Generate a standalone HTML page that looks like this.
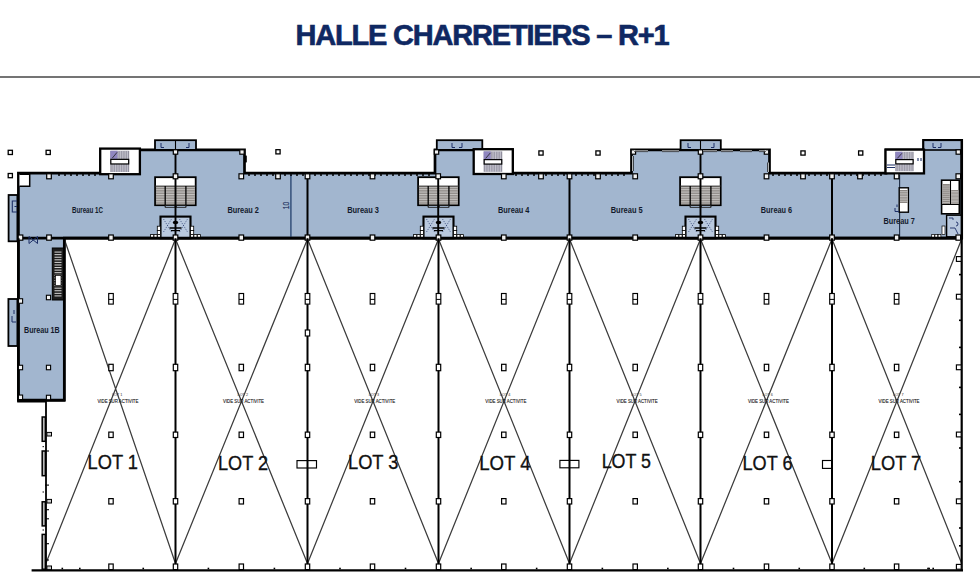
<!DOCTYPE html>
<html><head><meta charset="utf-8"><style>
html,body{margin:0;padding:0;background:#fff;width:980px;height:588px;overflow:hidden;position:relative}
.t{position:absolute;left:0;width:964px;top:19px;text-align:center;font-family:"Liberation Sans",sans-serif;font-weight:bold;font-size:29px;color:#0f2862;letter-spacing:-1.2px;-webkit-text-stroke:0.6px #0f2862;white-space:nowrap}
.rule{position:absolute;left:0;top:76px;width:980px;height:2px;background:#747474}
</style></head><body>
<div class="t">HALLE CHARRETIERS – R+1</div>
<div class="rule"></div>
<svg width="980" height="588" viewBox="0 0 980 588" style="position:absolute;left:0;top:0">
<polygon points="18.4,173.2 101,173.2 101,149.9 244.5,149.9 244.5,173.2 435,173.2 435,149.9 512.5,149.9 512.5,173.2 631.5,173.2 631.5,149.9 769.5,149.9 769.5,173.2 886,173.2 886,149.9 923.5,149.9 923.5,140.3 961.7,140.3 961.7,238.2 64.3,238.2 64.3,400 18.4,400" fill="#a2b6cf" stroke="#000" stroke-width="2.7" stroke-linejoin="miter"/>
<rect x="155.00" y="140.20" width="41.00" height="9.70" fill="#a2b6cf" stroke="#000" stroke-width="1.8" />
<rect x="436.80" y="140.20" width="45.50" height="9.70" fill="#a2b6cf" stroke="#000" stroke-width="1.8" />
<rect x="680.60" y="140.20" width="40.20" height="9.70" fill="#a2b6cf" stroke="#000" stroke-width="1.8" />
<rect x="923.50" y="140.30" width="38.20" height="9.70" fill="#a2b6cf" stroke="#000" stroke-width="1.6" />
<line x1="175.50" y1="140.20" x2="175.50" y2="149.90" stroke="#000" stroke-width="1.1" />
<line x1="700.50" y1="140.20" x2="700.50" y2="149.90" stroke="#000" stroke-width="1.1" />
<path d="M161,143V147.5H164" stroke="#1d2f66" stroke-width="1" fill="none"/>
<path d="M189,143V147.5H186" stroke="#1d2f66" stroke-width="1" fill="none"/>
<path d="M452,143V147.5H455" stroke="#1d2f66" stroke-width="1" fill="none"/>
<path d="M462,143V147.5H459" stroke="#1d2f66" stroke-width="1" fill="none"/>
<path d="M688,143V147.5H691" stroke="#1d2f66" stroke-width="1" fill="none"/>
<path d="M714,143V147.5H711" stroke="#1d2f66" stroke-width="1" fill="none"/>
<path d="M933,143V147.5H936" stroke="#1d2f66" stroke-width="1" fill="none"/>
<path d="M941,143V147.5H938" stroke="#1d2f66" stroke-width="1" fill="none"/>
<rect x="8.60" y="195.00" width="8.80" height="46.30" fill="#a2b6cf" stroke="#000" stroke-width="1.8" />
<path d="M17,201H12.3V212H17M14.5,206.5H17" stroke="#1d2f66" stroke-width="1.1" fill="none"/>
<rect x="8.40" y="299.00" width="9.00" height="47.00" fill="#a2b6cf" stroke="#000" stroke-width="1.8" />
<path d="M12,316V322H16M14,310V314" stroke="#1d2f66" stroke-width="1" fill="none"/>
<rect x="100.20" y="148.60" width="39.70" height="25.60" fill="#fff" stroke="#000" stroke-width="2.3" />
<rect x="110.32" y="150.80" width="18.86" height="21.20" fill="#8f8d9c" stroke="#000" stroke-width="0" />
<line x1="112.04" y1="150.80" x2="112.04" y2="172.00" stroke="#e6e6ee" stroke-width="0.6" />
<line x1="113.75" y1="150.80" x2="113.75" y2="172.00" stroke="#e6e6ee" stroke-width="0.6" />
<line x1="115.47" y1="150.80" x2="115.47" y2="172.00" stroke="#e6e6ee" stroke-width="0.6" />
<line x1="117.18" y1="150.80" x2="117.18" y2="172.00" stroke="#e6e6ee" stroke-width="0.6" />
<line x1="118.90" y1="150.80" x2="118.90" y2="172.00" stroke="#e6e6ee" stroke-width="0.6" />
<line x1="120.61" y1="150.80" x2="120.61" y2="172.00" stroke="#e6e6ee" stroke-width="0.6" />
<line x1="122.32" y1="150.80" x2="122.32" y2="172.00" stroke="#e6e6ee" stroke-width="0.6" />
<line x1="124.04" y1="150.80" x2="124.04" y2="172.00" stroke="#e6e6ee" stroke-width="0.6" />
<line x1="125.75" y1="150.80" x2="125.75" y2="172.00" stroke="#e6e6ee" stroke-width="0.6" />
<line x1="127.47" y1="150.80" x2="127.47" y2="172.00" stroke="#e6e6ee" stroke-width="0.6" />
<rect x="110.32" y="150.80" width="7.17" height="8.04" fill="#8f86c0" stroke="#000" stroke-width="0" />
<path d="M112.32350000000001,158.072L117.11220000000002,152.29999999999998" stroke="#222" stroke-width="0.8"/>
<rect x="110.82" y="159.35" width="17.86" height="4.61" fill="#fff" stroke="#000" stroke-width="1.2" />
<rect x="473.70" y="149.20" width="39.10" height="24.80" fill="#fff" stroke="#000" stroke-width="2.3" />
<rect x="483.67" y="151.40" width="18.57" height="20.40" fill="#8f8d9c" stroke="#000" stroke-width="0" />
<line x1="485.36" y1="151.40" x2="485.36" y2="171.80" stroke="#e6e6ee" stroke-width="0.6" />
<line x1="487.05" y1="151.40" x2="487.05" y2="171.80" stroke="#e6e6ee" stroke-width="0.6" />
<line x1="488.74" y1="151.40" x2="488.74" y2="171.80" stroke="#e6e6ee" stroke-width="0.6" />
<line x1="490.42" y1="151.40" x2="490.42" y2="171.80" stroke="#e6e6ee" stroke-width="0.6" />
<line x1="492.11" y1="151.40" x2="492.11" y2="171.80" stroke="#e6e6ee" stroke-width="0.6" />
<line x1="493.80" y1="151.40" x2="493.80" y2="171.80" stroke="#e6e6ee" stroke-width="0.6" />
<line x1="495.49" y1="151.40" x2="495.49" y2="171.80" stroke="#e6e6ee" stroke-width="0.6" />
<line x1="497.18" y1="151.40" x2="497.18" y2="171.80" stroke="#e6e6ee" stroke-width="0.6" />
<line x1="498.87" y1="151.40" x2="498.87" y2="171.80" stroke="#e6e6ee" stroke-width="0.6" />
<line x1="500.55" y1="151.40" x2="500.55" y2="171.80" stroke="#e6e6ee" stroke-width="0.6" />
<rect x="483.67" y="151.40" width="7.06" height="7.72" fill="#8f86c0" stroke="#000" stroke-width="0" />
<path d="M485.6705,158.376L490.35659999999996,152.89999999999998" stroke="#222" stroke-width="0.8"/>
<rect x="484.17" y="159.62" width="17.57" height="4.46" fill="#fff" stroke="#000" stroke-width="1.2" />
<rect x="885.50" y="149.60" width="38.50" height="23.80" fill="#fff" stroke="#000" stroke-width="2.3" />
<rect x="895.32" y="151.80" width="18.29" height="19.40" fill="#8f8d9c" stroke="#000" stroke-width="0" />
<line x1="896.98" y1="151.80" x2="896.98" y2="171.20" stroke="#e6e6ee" stroke-width="0.6" />
<line x1="898.64" y1="151.80" x2="898.64" y2="171.20" stroke="#e6e6ee" stroke-width="0.6" />
<line x1="900.30" y1="151.80" x2="900.30" y2="171.20" stroke="#e6e6ee" stroke-width="0.6" />
<line x1="901.97" y1="151.80" x2="901.97" y2="171.20" stroke="#e6e6ee" stroke-width="0.6" />
<line x1="903.63" y1="151.80" x2="903.63" y2="171.20" stroke="#e6e6ee" stroke-width="0.6" />
<line x1="905.29" y1="151.80" x2="905.29" y2="171.20" stroke="#e6e6ee" stroke-width="0.6" />
<line x1="906.96" y1="151.80" x2="906.96" y2="171.20" stroke="#e6e6ee" stroke-width="0.6" />
<line x1="908.62" y1="151.80" x2="908.62" y2="171.20" stroke="#e6e6ee" stroke-width="0.6" />
<line x1="910.28" y1="151.80" x2="910.28" y2="171.20" stroke="#e6e6ee" stroke-width="0.6" />
<line x1="911.94" y1="151.80" x2="911.94" y2="171.20" stroke="#e6e6ee" stroke-width="0.6" />
<rect x="895.32" y="151.80" width="6.95" height="7.32" fill="#8f86c0" stroke="#000" stroke-width="0" />
<path d="M897.3175,158.406L901.901,153.29999999999998" stroke="#222" stroke-width="0.8"/>
<rect x="895.82" y="159.60" width="17.29" height="4.28" fill="#fff" stroke="#000" stroke-width="1.2" />
<path d="M887,165H895M887,167.5H895M918,158V161M921,158V161" stroke="#1d2f66" stroke-width="1.1" fill="none"/>
<rect x="155.10" y="177.20" width="40.60" height="28.00" fill="#fff" stroke="#000" stroke-width="1.8" />
<rect x="155.90" y="186.00" width="39.00" height="18.40" fill="#7f7a76" stroke="#000" stroke-width="0" />
<line x1="156.10" y1="187.70" x2="194.70" y2="187.70" stroke="#f4f4f4" stroke-width="0.6" />
<line x1="156.10" y1="189.40" x2="194.70" y2="189.40" stroke="#f4f4f4" stroke-width="0.6" />
<line x1="156.10" y1="191.10" x2="194.70" y2="191.10" stroke="#f4f4f4" stroke-width="0.6" />
<line x1="156.10" y1="192.80" x2="194.70" y2="192.80" stroke="#f4f4f4" stroke-width="0.6" />
<line x1="156.10" y1="194.50" x2="194.70" y2="194.50" stroke="#f4f4f4" stroke-width="0.6" />
<line x1="156.10" y1="196.20" x2="194.70" y2="196.20" stroke="#f4f4f4" stroke-width="0.6" />
<line x1="156.10" y1="197.90" x2="194.70" y2="197.90" stroke="#f4f4f4" stroke-width="0.6" />
<line x1="156.10" y1="199.60" x2="194.70" y2="199.60" stroke="#f4f4f4" stroke-width="0.6" />
<line x1="156.10" y1="201.30" x2="194.70" y2="201.30" stroke="#f4f4f4" stroke-width="0.6" />
<line x1="156.10" y1="203.00" x2="194.70" y2="203.00" stroke="#f4f4f4" stroke-width="0.6" />
<line x1="155.10" y1="186.00" x2="195.70" y2="186.00" stroke="#333" stroke-width="0.8" />
<line x1="165.20" y1="186.00" x2="165.20" y2="206.40" stroke="#000" stroke-width="1.3" />
<line x1="185.90" y1="186.00" x2="185.90" y2="206.40" stroke="#000" stroke-width="1.3" />
<rect x="165.20" y="205.50" width="9.80" height="1.90" fill="none" stroke="#222" stroke-width="0.8" />
<rect x="176.50" y="205.50" width="9.40" height="1.90" fill="none" stroke="#222" stroke-width="0.8" />
<rect x="418.10" y="177.20" width="40.60" height="28.00" fill="#fff" stroke="#000" stroke-width="1.8" />
<rect x="418.90" y="186.00" width="39.00" height="18.40" fill="#7f7a76" stroke="#000" stroke-width="0" />
<line x1="419.10" y1="187.70" x2="457.70" y2="187.70" stroke="#f4f4f4" stroke-width="0.6" />
<line x1="419.10" y1="189.40" x2="457.70" y2="189.40" stroke="#f4f4f4" stroke-width="0.6" />
<line x1="419.10" y1="191.10" x2="457.70" y2="191.10" stroke="#f4f4f4" stroke-width="0.6" />
<line x1="419.10" y1="192.80" x2="457.70" y2="192.80" stroke="#f4f4f4" stroke-width="0.6" />
<line x1="419.10" y1="194.50" x2="457.70" y2="194.50" stroke="#f4f4f4" stroke-width="0.6" />
<line x1="419.10" y1="196.20" x2="457.70" y2="196.20" stroke="#f4f4f4" stroke-width="0.6" />
<line x1="419.10" y1="197.90" x2="457.70" y2="197.90" stroke="#f4f4f4" stroke-width="0.6" />
<line x1="419.10" y1="199.60" x2="457.70" y2="199.60" stroke="#f4f4f4" stroke-width="0.6" />
<line x1="419.10" y1="201.30" x2="457.70" y2="201.30" stroke="#f4f4f4" stroke-width="0.6" />
<line x1="419.10" y1="203.00" x2="457.70" y2="203.00" stroke="#f4f4f4" stroke-width="0.6" />
<line x1="418.10" y1="186.00" x2="458.70" y2="186.00" stroke="#333" stroke-width="0.8" />
<line x1="428.20" y1="186.00" x2="428.20" y2="206.40" stroke="#000" stroke-width="1.3" />
<line x1="448.90" y1="186.00" x2="448.90" y2="206.40" stroke="#000" stroke-width="1.3" />
<rect x="428.20" y="205.50" width="9.80" height="1.90" fill="none" stroke="#222" stroke-width="0.8" />
<rect x="439.50" y="205.50" width="9.40" height="1.90" fill="none" stroke="#222" stroke-width="0.8" />
<rect x="680.10" y="177.20" width="40.60" height="28.00" fill="#fff" stroke="#000" stroke-width="1.8" />
<rect x="680.90" y="186.00" width="39.00" height="18.40" fill="#7f7a76" stroke="#000" stroke-width="0" />
<line x1="681.10" y1="187.70" x2="719.70" y2="187.70" stroke="#f4f4f4" stroke-width="0.6" />
<line x1="681.10" y1="189.40" x2="719.70" y2="189.40" stroke="#f4f4f4" stroke-width="0.6" />
<line x1="681.10" y1="191.10" x2="719.70" y2="191.10" stroke="#f4f4f4" stroke-width="0.6" />
<line x1="681.10" y1="192.80" x2="719.70" y2="192.80" stroke="#f4f4f4" stroke-width="0.6" />
<line x1="681.10" y1="194.50" x2="719.70" y2="194.50" stroke="#f4f4f4" stroke-width="0.6" />
<line x1="681.10" y1="196.20" x2="719.70" y2="196.20" stroke="#f4f4f4" stroke-width="0.6" />
<line x1="681.10" y1="197.90" x2="719.70" y2="197.90" stroke="#f4f4f4" stroke-width="0.6" />
<line x1="681.10" y1="199.60" x2="719.70" y2="199.60" stroke="#f4f4f4" stroke-width="0.6" />
<line x1="681.10" y1="201.30" x2="719.70" y2="201.30" stroke="#f4f4f4" stroke-width="0.6" />
<line x1="681.10" y1="203.00" x2="719.70" y2="203.00" stroke="#f4f4f4" stroke-width="0.6" />
<line x1="680.10" y1="186.00" x2="720.70" y2="186.00" stroke="#333" stroke-width="0.8" />
<line x1="690.20" y1="186.00" x2="690.20" y2="206.40" stroke="#000" stroke-width="1.3" />
<line x1="710.90" y1="186.00" x2="710.90" y2="206.40" stroke="#000" stroke-width="1.3" />
<rect x="690.20" y="205.50" width="9.80" height="1.90" fill="none" stroke="#222" stroke-width="0.8" />
<rect x="701.50" y="205.50" width="9.40" height="1.90" fill="none" stroke="#222" stroke-width="0.8" />
<rect x="160.50" y="216.60" width="30.00" height="21.60" fill="#b9c9de" stroke="#000" stroke-width="2.1" />
<path d="M163.5,219L171.5,232M163.5,232L171.5,219M179.5,219L187.5,232M179.5,232L187.5,219" stroke="#1d2f66" stroke-width="0.8" stroke-dasharray="1.2 1.2" fill="none" opacity="0.8"/>
<ellipse cx="175.5" cy="222.5" rx="2.8" ry="1.7" fill="#000"/>
<line x1="169.50" y1="228.00" x2="181.50" y2="228.00" stroke="#000" stroke-width="1.5" />
<line x1="171.00" y1="230.60" x2="180.00" y2="230.60" stroke="#000" stroke-width="1.2" />
<rect x="157.30" y="234.60" width="3.20" height="3.00" fill="#fff" stroke="#000" stroke-width="0.8" />
<rect x="153.90" y="234.60" width="3.20" height="3.00" fill="#fff" stroke="#000" stroke-width="0.8" />
<rect x="150.50" y="234.60" width="3.20" height="3.00" fill="#fff" stroke="#000" stroke-width="0.8" />
<rect x="157.30" y="226.20" width="3.20" height="4.20" fill="#fff" stroke="#000" stroke-width="0.8" />
<rect x="157.30" y="230.40" width="3.20" height="4.20" fill="#fff" stroke="#000" stroke-width="0.8" />
<rect x="190.50" y="234.60" width="3.20" height="3.00" fill="#fff" stroke="#000" stroke-width="0.8" />
<rect x="193.90" y="234.60" width="3.20" height="3.00" fill="#fff" stroke="#000" stroke-width="0.8" />
<rect x="197.30" y="234.60" width="3.20" height="3.00" fill="#fff" stroke="#000" stroke-width="0.8" />
<rect x="190.50" y="226.20" width="3.20" height="4.20" fill="#fff" stroke="#000" stroke-width="0.8" />
<rect x="190.50" y="230.40" width="3.20" height="4.20" fill="#fff" stroke="#000" stroke-width="0.8" />
<rect x="423.50" y="216.60" width="30.00" height="21.60" fill="#b9c9de" stroke="#000" stroke-width="2.1" />
<path d="M426.5,219L434.5,232M426.5,232L434.5,219M442.5,219L450.5,232M442.5,232L450.5,219" stroke="#1d2f66" stroke-width="0.8" stroke-dasharray="1.2 1.2" fill="none" opacity="0.8"/>
<ellipse cx="438.5" cy="222.5" rx="2.8" ry="1.7" fill="#000"/>
<line x1="432.50" y1="228.00" x2="444.50" y2="228.00" stroke="#000" stroke-width="1.5" />
<line x1="434.00" y1="230.60" x2="443.00" y2="230.60" stroke="#000" stroke-width="1.2" />
<rect x="420.30" y="234.60" width="3.20" height="3.00" fill="#fff" stroke="#000" stroke-width="0.8" />
<rect x="416.90" y="234.60" width="3.20" height="3.00" fill="#fff" stroke="#000" stroke-width="0.8" />
<rect x="413.50" y="234.60" width="3.20" height="3.00" fill="#fff" stroke="#000" stroke-width="0.8" />
<rect x="420.30" y="226.20" width="3.20" height="4.20" fill="#fff" stroke="#000" stroke-width="0.8" />
<rect x="420.30" y="230.40" width="3.20" height="4.20" fill="#fff" stroke="#000" stroke-width="0.8" />
<rect x="453.50" y="234.60" width="3.20" height="3.00" fill="#fff" stroke="#000" stroke-width="0.8" />
<rect x="456.90" y="234.60" width="3.20" height="3.00" fill="#fff" stroke="#000" stroke-width="0.8" />
<rect x="460.30" y="234.60" width="3.20" height="3.00" fill="#fff" stroke="#000" stroke-width="0.8" />
<rect x="453.50" y="226.20" width="3.20" height="4.20" fill="#fff" stroke="#000" stroke-width="0.8" />
<rect x="453.50" y="230.40" width="3.20" height="4.20" fill="#fff" stroke="#000" stroke-width="0.8" />
<rect x="685.50" y="216.60" width="30.00" height="21.60" fill="#b9c9de" stroke="#000" stroke-width="2.1" />
<path d="M688.5,219L696.5,232M688.5,232L696.5,219M704.5,219L712.5,232M704.5,232L712.5,219" stroke="#1d2f66" stroke-width="0.8" stroke-dasharray="1.2 1.2" fill="none" opacity="0.8"/>
<ellipse cx="700.5" cy="222.5" rx="2.8" ry="1.7" fill="#000"/>
<line x1="694.50" y1="228.00" x2="706.50" y2="228.00" stroke="#000" stroke-width="1.5" />
<line x1="696.00" y1="230.60" x2="705.00" y2="230.60" stroke="#000" stroke-width="1.2" />
<rect x="682.30" y="234.60" width="3.20" height="3.00" fill="#fff" stroke="#000" stroke-width="0.8" />
<rect x="678.90" y="234.60" width="3.20" height="3.00" fill="#fff" stroke="#000" stroke-width="0.8" />
<rect x="675.50" y="234.60" width="3.20" height="3.00" fill="#fff" stroke="#000" stroke-width="0.8" />
<rect x="682.30" y="226.20" width="3.20" height="4.20" fill="#fff" stroke="#000" stroke-width="0.8" />
<rect x="682.30" y="230.40" width="3.20" height="4.20" fill="#fff" stroke="#000" stroke-width="0.8" />
<rect x="715.50" y="234.60" width="3.20" height="3.00" fill="#fff" stroke="#000" stroke-width="0.8" />
<rect x="718.90" y="234.60" width="3.20" height="3.00" fill="#fff" stroke="#000" stroke-width="0.8" />
<rect x="722.30" y="234.60" width="3.20" height="3.00" fill="#fff" stroke="#000" stroke-width="0.8" />
<rect x="715.50" y="226.20" width="3.20" height="4.20" fill="#fff" stroke="#000" stroke-width="0.8" />
<rect x="715.50" y="230.40" width="3.20" height="4.20" fill="#fff" stroke="#000" stroke-width="0.8" />
<line x1="899.60" y1="175.00" x2="899.60" y2="238.20" stroke="#1b2a44" stroke-width="1.1" />
<rect x="899.20" y="187.80" width="9.20" height="24.40" fill="#fff" stroke="#000" stroke-width="1.4" />
<rect x="900.00" y="190.00" width="7.60" height="13.00" fill="#8b8682" stroke="#000" stroke-width="0" />
<line x1="900.00" y1="191.62" x2="907.60" y2="191.62" stroke="#eee" stroke-width="0.5" />
<line x1="900.00" y1="193.25" x2="907.60" y2="193.25" stroke="#eee" stroke-width="0.5" />
<line x1="900.00" y1="194.88" x2="907.60" y2="194.88" stroke="#eee" stroke-width="0.5" />
<line x1="900.00" y1="196.50" x2="907.60" y2="196.50" stroke="#eee" stroke-width="0.5" />
<line x1="900.00" y1="198.12" x2="907.60" y2="198.12" stroke="#eee" stroke-width="0.5" />
<line x1="900.00" y1="199.75" x2="907.60" y2="199.75" stroke="#eee" stroke-width="0.5" />
<line x1="900.00" y1="201.38" x2="907.60" y2="201.38" stroke="#eee" stroke-width="0.5" />
<path d="M895,208V211.5H899M897,204.5V207" stroke="#1d2f66" stroke-width="1" fill="none"/>
<rect x="941.60" y="180.20" width="17.70" height="33.60" fill="#fff" stroke="#000" stroke-width="1.6" />
<rect x="942.60" y="184.00" width="7.20" height="20.50" fill="#8b8682" stroke="#000" stroke-width="0" />
<rect x="951.20" y="190.00" width="7.20" height="14.50" fill="#8b8682" stroke="#000" stroke-width="0" />
<line x1="942.60" y1="186.05" x2="949.80" y2="186.05" stroke="#eee" stroke-width="0.5" />
<line x1="951.20" y1="191.45" x2="958.40" y2="191.45" stroke="#eee" stroke-width="0.5" />
<line x1="942.60" y1="188.10" x2="949.80" y2="188.10" stroke="#eee" stroke-width="0.5" />
<line x1="951.20" y1="192.90" x2="958.40" y2="192.90" stroke="#eee" stroke-width="0.5" />
<line x1="942.60" y1="190.15" x2="949.80" y2="190.15" stroke="#eee" stroke-width="0.5" />
<line x1="951.20" y1="194.35" x2="958.40" y2="194.35" stroke="#eee" stroke-width="0.5" />
<line x1="942.60" y1="192.20" x2="949.80" y2="192.20" stroke="#eee" stroke-width="0.5" />
<line x1="951.20" y1="195.80" x2="958.40" y2="195.80" stroke="#eee" stroke-width="0.5" />
<line x1="942.60" y1="194.25" x2="949.80" y2="194.25" stroke="#eee" stroke-width="0.5" />
<line x1="951.20" y1="197.25" x2="958.40" y2="197.25" stroke="#eee" stroke-width="0.5" />
<line x1="942.60" y1="196.30" x2="949.80" y2="196.30" stroke="#eee" stroke-width="0.5" />
<line x1="951.20" y1="198.70" x2="958.40" y2="198.70" stroke="#eee" stroke-width="0.5" />
<line x1="942.60" y1="198.35" x2="949.80" y2="198.35" stroke="#eee" stroke-width="0.5" />
<line x1="951.20" y1="200.15" x2="958.40" y2="200.15" stroke="#eee" stroke-width="0.5" />
<line x1="942.60" y1="200.40" x2="949.80" y2="200.40" stroke="#eee" stroke-width="0.5" />
<line x1="951.20" y1="201.60" x2="958.40" y2="201.60" stroke="#eee" stroke-width="0.5" />
<line x1="942.60" y1="202.45" x2="949.80" y2="202.45" stroke="#eee" stroke-width="0.5" />
<line x1="951.20" y1="203.05" x2="958.40" y2="203.05" stroke="#eee" stroke-width="0.5" />
<line x1="950.50" y1="180.20" x2="950.50" y2="204.50" stroke="#000" stroke-width="1.1" />
<line x1="941.60" y1="204.50" x2="959.30" y2="204.50" stroke="#000" stroke-width="1" />
<rect x="946.60" y="215.20" width="15.10" height="21.60" fill="#b9c9de" stroke="#000" stroke-width="1.4" />
<path d="M949,218H953V220M956,222A2,2 0 1,1 956,226M950,228H955L958,234" stroke="#1d2f66" stroke-width="0.9" fill="none"/>
<rect x="938.10" y="234.50" width="2.80" height="3.10" fill="#fff" stroke="#000" stroke-width="0.7" />
<rect x="934.90" y="234.50" width="2.80" height="3.10" fill="#fff" stroke="#000" stroke-width="0.7" />
<rect x="931.70" y="234.50" width="2.80" height="3.10" fill="#fff" stroke="#000" stroke-width="0.7" />
<rect x="942.00" y="226.00" width="3.00" height="8.50" fill="#fff" stroke="#000" stroke-width="0.7" />
<line x1="290.90" y1="174.00" x2="290.90" y2="238.20" stroke="#34507a" stroke-width="1.5" />
<line x1="175.50" y1="149.90" x2="175.50" y2="238.20" stroke="#000" stroke-width="1.9" />
<line x1="700.50" y1="149.90" x2="700.50" y2="238.20" stroke="#000" stroke-width="1.9" />
<line x1="438.20" y1="176.00" x2="438.20" y2="238.20" stroke="#000" stroke-width="1.9" />
<line x1="307.50" y1="173.20" x2="307.50" y2="238.20" stroke="#000" stroke-width="2" />
<line x1="569.50" y1="173.20" x2="569.50" y2="238.20" stroke="#000" stroke-width="2" />
<line x1="832.00" y1="173.20" x2="832.00" y2="238.20" stroke="#000" stroke-width="2" />
<line x1="17.20" y1="238.20" x2="962.70" y2="238.20" stroke="#000" stroke-width="2.7" />
<line x1="58" y1="175" x2="96" y2="175" stroke="#000" stroke-width="1.7" stroke-dasharray="2 4"/>
<line x1="248" y1="175" x2="432" y2="175" stroke="#000" stroke-width="1.7" stroke-dasharray="2 4"/>
<line x1="515" y1="175" x2="629" y2="175" stroke="#000" stroke-width="1.7" stroke-dasharray="2 4"/>
<line x1="772" y1="175" x2="884" y2="175" stroke="#000" stroke-width="1.7" stroke-dasharray="2 4"/>
<rect x="46.70" y="173.80" width="4.60" height="5.00" fill="#f2f2f2" stroke="#000" stroke-width="1.2" />
<rect x="108.70" y="173.80" width="4.60" height="5.00" fill="#f2f2f2" stroke="#000" stroke-width="1.2" />
<rect x="173.20" y="173.80" width="4.60" height="5.00" fill="#f2f2f2" stroke="#000" stroke-width="1.2" />
<rect x="239.00" y="173.80" width="4.60" height="5.00" fill="#f2f2f2" stroke="#000" stroke-width="1.2" />
<rect x="275.70" y="173.80" width="4.60" height="5.00" fill="#f2f2f2" stroke="#000" stroke-width="1.2" />
<rect x="305.20" y="173.80" width="4.60" height="5.00" fill="#f2f2f2" stroke="#000" stroke-width="1.2" />
<rect x="370.20" y="173.80" width="4.60" height="5.00" fill="#f2f2f2" stroke="#000" stroke-width="1.2" />
<rect x="435.90" y="173.80" width="4.60" height="5.00" fill="#f2f2f2" stroke="#000" stroke-width="1.2" />
<rect x="501.50" y="173.80" width="4.60" height="5.00" fill="#f2f2f2" stroke="#000" stroke-width="1.2" />
<rect x="698.20" y="173.80" width="4.60" height="5.00" fill="#f2f2f2" stroke="#000" stroke-width="1.2" />
<rect x="538.70" y="173.80" width="4.60" height="5.00" fill="#f2f2f2" stroke="#000" stroke-width="1.2" />
<rect x="567.20" y="173.80" width="4.60" height="5.00" fill="#f2f2f2" stroke="#000" stroke-width="1.2" />
<rect x="595.70" y="173.80" width="4.60" height="5.00" fill="#f2f2f2" stroke="#000" stroke-width="1.2" />
<rect x="632.90" y="173.80" width="4.60" height="5.00" fill="#f2f2f2" stroke="#000" stroke-width="1.2" />
<rect x="764.20" y="173.80" width="4.60" height="5.00" fill="#f2f2f2" stroke="#000" stroke-width="1.2" />
<rect x="800.70" y="173.80" width="4.60" height="5.00" fill="#f2f2f2" stroke="#000" stroke-width="1.2" />
<rect x="829.70" y="173.80" width="4.60" height="5.00" fill="#f2f2f2" stroke="#000" stroke-width="1.2" />
<rect x="857.70" y="173.80" width="4.60" height="5.00" fill="#f2f2f2" stroke="#000" stroke-width="1.2" />
<rect x="894.30" y="173.80" width="4.60" height="5.00" fill="#f2f2f2" stroke="#000" stroke-width="1.2" />
<rect x="956.00" y="173.80" width="4.60" height="5.00" fill="#f2f2f2" stroke="#000" stroke-width="1.2" />
<rect x="18.20" y="235.00" width="4.60" height="5.20" fill="#f2f2f2" stroke="#000" stroke-width="1.2" />
<rect x="46.70" y="235.00" width="4.60" height="5.20" fill="#f2f2f2" stroke="#000" stroke-width="1.2" />
<rect x="108.70" y="235.00" width="4.60" height="5.20" fill="#f2f2f2" stroke="#000" stroke-width="1.2" />
<rect x="173.20" y="235.00" width="4.60" height="5.20" fill="#f2f2f2" stroke="#000" stroke-width="1.2" />
<rect x="239.00" y="235.00" width="4.60" height="5.20" fill="#f2f2f2" stroke="#000" stroke-width="1.2" />
<rect x="305.20" y="235.00" width="4.60" height="5.20" fill="#f2f2f2" stroke="#000" stroke-width="1.2" />
<rect x="370.20" y="235.00" width="4.60" height="5.20" fill="#f2f2f2" stroke="#000" stroke-width="1.2" />
<rect x="436.20" y="235.00" width="4.60" height="5.20" fill="#f2f2f2" stroke="#000" stroke-width="1.2" />
<rect x="501.50" y="235.00" width="4.60" height="5.20" fill="#f2f2f2" stroke="#000" stroke-width="1.2" />
<rect x="567.20" y="235.00" width="4.60" height="5.20" fill="#f2f2f2" stroke="#000" stroke-width="1.2" />
<rect x="632.90" y="235.00" width="4.60" height="5.20" fill="#f2f2f2" stroke="#000" stroke-width="1.2" />
<rect x="698.20" y="235.00" width="4.60" height="5.20" fill="#f2f2f2" stroke="#000" stroke-width="1.2" />
<rect x="764.20" y="235.00" width="4.60" height="5.20" fill="#f2f2f2" stroke="#000" stroke-width="1.2" />
<rect x="829.70" y="235.00" width="4.60" height="5.20" fill="#f2f2f2" stroke="#000" stroke-width="1.2" />
<rect x="894.30" y="235.00" width="4.60" height="5.20" fill="#f2f2f2" stroke="#000" stroke-width="1.2" />
<rect x="956.00" y="235.00" width="4.60" height="5.20" fill="#f2f2f2" stroke="#000" stroke-width="1.2" />
<rect x="173.30" y="149.80" width="4.40" height="4.40" fill="#f2f2f2" stroke="#000" stroke-width="1.2" />
<rect x="239.80" y="149.80" width="4.40" height="4.40" fill="#f2f2f2" stroke="#000" stroke-width="1.2" />
<rect x="434.30" y="149.80" width="4.40" height="4.40" fill="#f2f2f2" stroke="#000" stroke-width="1.2" />
<rect x="631.20" y="149.80" width="4.40" height="4.40" fill="#f2f2f2" stroke="#000" stroke-width="1.2" />
<rect x="698.30" y="149.80" width="4.40" height="4.40" fill="#f2f2f2" stroke="#000" stroke-width="1.2" />
<rect x="764.30" y="149.80" width="4.40" height="4.40" fill="#f2f2f2" stroke="#000" stroke-width="1.2" />
<rect x="956.10" y="149.80" width="4.40" height="4.40" fill="#f2f2f2" stroke="#000" stroke-width="1.2" />
<rect x="8.20" y="150.30" width="4.20" height="4.20" fill="#fff" stroke="#000" stroke-width="1.3" />
<rect x="46.10" y="150.30" width="4.20" height="4.20" fill="#fff" stroke="#000" stroke-width="1.3" />
<rect x="8.20" y="173.50" width="4.20" height="4.20" fill="#fff" stroke="#000" stroke-width="1.3" />
<rect x="275.90" y="149.70" width="4.20" height="4.20" fill="#fff" stroke="#000" stroke-width="1.3" />
<rect x="538.90" y="150.90" width="4.20" height="4.20" fill="#fff" stroke="#000" stroke-width="1.3" />
<rect x="595.90" y="150.90" width="4.20" height="4.20" fill="#fff" stroke="#000" stroke-width="1.3" />
<rect x="800.90" y="150.90" width="4.20" height="4.20" fill="#fff" stroke="#000" stroke-width="1.3" />
<rect x="858.60" y="150.90" width="4.20" height="4.20" fill="#fff" stroke="#000" stroke-width="1.3" />
<rect x="244.60" y="155.60" width="2.20" height="6.80" fill="#000" stroke="#000" stroke-width="0" />
<line x1="634.00" y1="151.60" x2="648.00" y2="151.60" stroke="#000" stroke-width="0.8" />
<line x1="634.00" y1="150.80" x2="648.00" y2="150.80" stroke="#f4f6f8" stroke-width="0.8" />
<line x1="662.00" y1="151.60" x2="679.00" y2="151.60" stroke="#000" stroke-width="0.8" />
<line x1="662.00" y1="150.80" x2="679.00" y2="150.80" stroke="#f4f6f8" stroke-width="0.8" />
<line x1="703.00" y1="151.60" x2="717.00" y2="151.60" stroke="#000" stroke-width="0.8" />
<line x1="703.00" y1="150.80" x2="717.00" y2="150.80" stroke="#f4f6f8" stroke-width="0.8" />
<line x1="721.00" y1="151.60" x2="733.00" y2="151.60" stroke="#000" stroke-width="0.8" />
<line x1="721.00" y1="150.80" x2="733.00" y2="150.80" stroke="#f4f6f8" stroke-width="0.8" />
<line x1="740.00" y1="151.60" x2="752.00" y2="151.60" stroke="#000" stroke-width="0.8" />
<line x1="740.00" y1="150.80" x2="752.00" y2="150.80" stroke="#f4f6f8" stroke-width="0.8" />
<line x1="759.00" y1="151.60" x2="766.00" y2="151.60" stroke="#000" stroke-width="0.8" />
<line x1="759.00" y1="150.80" x2="766.00" y2="150.80" stroke="#f4f6f8" stroke-width="0.8" />
<line x1="767.60" y1="162.50" x2="767.60" y2="172.00" stroke="#000" stroke-width="0.8" />
<line x1="768.40" y1="162.50" x2="768.40" y2="172.00" stroke="#f4f6f8" stroke-width="0.8" />
<line x1="633.40" y1="156.00" x2="633.40" y2="171.00" stroke="#000" stroke-width="0.8" />
<line x1="632.60" y1="156.00" x2="632.60" y2="171.00" stroke="#f4f6f8" stroke-width="0.8" />
<path d="M19.5,174.3H29.7V186.2H19.5" fill="#fff" stroke="#000" stroke-width="1.5"/>
<path d="M29,236.5V243.5L37.5,236.5V243.5Z" stroke="#1d2f66" stroke-width="1" fill="none"/>
<path d="M64.3,239.0L175.5,563.5M175.5,239.0L45.8,563.5M175.5,239.0L307.5,563.5M307.5,239.0L175.5,563.5M307.5,239.0L438.5,563.5M438.5,239.0L307.5,563.5M438.5,239.0L569.5,563.5M569.5,239.0L438.5,563.5M569.5,239.0L700.5,563.5M700.5,239.0L569.5,563.5M700.5,239.0L832,563.5M832,239.0L700.5,563.5M832,239.0L961.7,563.5M961.7,239.0L832,563.5" stroke="#3c3c3c" stroke-width="1.25" fill="none"/>
<path d="M175.5,238.2V570.3M307.5,238.2V570.3M438.5,238.2V570.3M569.5,238.2V570.3M700.5,238.2V570.3M832,238.2V570.3" stroke="#000" stroke-width="2" fill="none"/>
<path d="M961.7,140.3V570.8" stroke="#000" stroke-width="2.2" fill="none"/>
<path d="M46,400V570.3" stroke="#000" stroke-width="1.8" fill="none"/>
<path d="M31.6,570.3H963" stroke="#000" stroke-width="2.2" fill="none"/>
<path d="M18.4,238.2V400.5H64.3V238.2" stroke="#000" stroke-width="2.4" fill="none"/>
<line x1="17.20" y1="401.20" x2="46.00" y2="401.20" stroke="#000" stroke-width="2.6" />
<rect x="42.20" y="417.00" width="3.20" height="24.30" fill="#bbb" stroke="#000" stroke-width="1.5" />
<rect x="42.20" y="451.00" width="3.20" height="24.70" fill="#bbb" stroke="#000" stroke-width="1.5" />
<rect x="42.20" y="501.80" width="3.20" height="24.10" fill="#bbb" stroke="#000" stroke-width="1.5" />
<rect x="42.20" y="534.40" width="3.20" height="34.80" fill="#bbb" stroke="#000" stroke-width="1.5" />
<line x1="45.00" y1="451.00" x2="49.00" y2="451.00" stroke="#000" stroke-width="1.1" />
<line x1="45.00" y1="485.10" x2="49.00" y2="485.10" stroke="#000" stroke-width="1.1" />
<line x1="45.00" y1="509.70" x2="49.00" y2="509.70" stroke="#000" stroke-width="1.1" />
<line x1="45.00" y1="518.80" x2="49.00" y2="518.80" stroke="#000" stroke-width="1.1" />
<line x1="45.00" y1="543.70" x2="49.00" y2="543.70" stroke="#000" stroke-width="1.1" />
<line x1="45.00" y1="560.00" x2="49.00" y2="560.00" stroke="#000" stroke-width="1.1" />
<rect x="42.60" y="446.00" width="1.20" height="1.20" fill="#000" stroke="#000" stroke-width="0" />
<rect x="42.60" y="491.40" width="1.20" height="1.20" fill="#000" stroke="#000" stroke-width="0" />
<rect x="42.60" y="529.40" width="1.20" height="1.20" fill="#000" stroke="#000" stroke-width="0" />
<rect x="173.20" y="293.50" width="4.60" height="10.60" fill="#fff" stroke="#000" stroke-width="1.15" />
<line x1="173.20" y1="299.40" x2="177.80" y2="299.40" stroke="#000" stroke-width="1" />
<rect x="305.20" y="293.50" width="4.60" height="10.60" fill="#fff" stroke="#000" stroke-width="1.15" />
<line x1="305.20" y1="299.40" x2="309.80" y2="299.40" stroke="#000" stroke-width="1" />
<rect x="436.20" y="293.50" width="4.60" height="10.60" fill="#fff" stroke="#000" stroke-width="1.15" />
<line x1="436.20" y1="299.40" x2="440.80" y2="299.40" stroke="#000" stroke-width="1" />
<rect x="567.20" y="293.50" width="4.60" height="10.60" fill="#fff" stroke="#000" stroke-width="1.15" />
<line x1="567.20" y1="299.40" x2="571.80" y2="299.40" stroke="#000" stroke-width="1" />
<rect x="698.20" y="293.50" width="4.60" height="10.60" fill="#fff" stroke="#000" stroke-width="1.15" />
<line x1="698.20" y1="299.40" x2="702.80" y2="299.40" stroke="#000" stroke-width="1" />
<rect x="829.70" y="293.50" width="4.60" height="10.60" fill="#fff" stroke="#000" stroke-width="1.15" />
<line x1="829.70" y1="299.40" x2="834.30" y2="299.40" stroke="#000" stroke-width="1" />
<rect x="108.70" y="293.50" width="4.60" height="10.60" fill="#fff" stroke="#000" stroke-width="1.15" />
<line x1="108.70" y1="299.40" x2="113.30" y2="299.40" stroke="#000" stroke-width="1" />
<rect x="239.00" y="293.50" width="4.60" height="10.60" fill="#fff" stroke="#000" stroke-width="1.15" />
<line x1="239.00" y1="299.40" x2="243.60" y2="299.40" stroke="#000" stroke-width="1" />
<rect x="370.20" y="293.50" width="4.60" height="10.60" fill="#fff" stroke="#000" stroke-width="1.15" />
<line x1="370.20" y1="299.40" x2="374.80" y2="299.40" stroke="#000" stroke-width="1" />
<rect x="501.50" y="293.50" width="4.60" height="10.60" fill="#fff" stroke="#000" stroke-width="1.15" />
<line x1="501.50" y1="299.40" x2="506.10" y2="299.40" stroke="#000" stroke-width="1" />
<rect x="632.90" y="293.50" width="4.60" height="10.60" fill="#fff" stroke="#000" stroke-width="1.15" />
<line x1="632.90" y1="299.40" x2="637.50" y2="299.40" stroke="#000" stroke-width="1" />
<rect x="764.20" y="293.50" width="4.60" height="10.60" fill="#fff" stroke="#000" stroke-width="1.15" />
<line x1="764.20" y1="299.40" x2="768.80" y2="299.40" stroke="#000" stroke-width="1" />
<rect x="894.30" y="293.50" width="4.60" height="10.60" fill="#fff" stroke="#000" stroke-width="1.15" />
<line x1="894.30" y1="299.40" x2="898.90" y2="299.40" stroke="#000" stroke-width="1" />
<rect x="173.30" y="364.30" width="4.40" height="6.40" fill="#fff" stroke="#000" stroke-width="1.2" />
<rect x="305.30" y="364.30" width="4.40" height="6.40" fill="#fff" stroke="#000" stroke-width="1.2" />
<rect x="436.30" y="364.30" width="4.40" height="6.40" fill="#fff" stroke="#000" stroke-width="1.2" />
<rect x="567.30" y="364.30" width="4.40" height="6.40" fill="#fff" stroke="#000" stroke-width="1.2" />
<rect x="698.30" y="364.30" width="4.40" height="6.40" fill="#fff" stroke="#000" stroke-width="1.2" />
<rect x="829.80" y="364.30" width="4.40" height="6.40" fill="#fff" stroke="#000" stroke-width="1.2" />
<rect x="108.80" y="364.30" width="4.40" height="6.40" fill="#fff" stroke="#000" stroke-width="1.2" />
<rect x="239.10" y="364.30" width="4.40" height="6.40" fill="#fff" stroke="#000" stroke-width="1.2" />
<rect x="370.30" y="364.30" width="4.40" height="6.40" fill="#fff" stroke="#000" stroke-width="1.2" />
<rect x="501.60" y="364.30" width="4.40" height="6.40" fill="#fff" stroke="#000" stroke-width="1.2" />
<rect x="633.00" y="364.30" width="4.40" height="6.40" fill="#fff" stroke="#000" stroke-width="1.2" />
<rect x="764.30" y="364.30" width="4.40" height="6.40" fill="#fff" stroke="#000" stroke-width="1.2" />
<rect x="894.40" y="364.30" width="4.40" height="6.40" fill="#fff" stroke="#000" stroke-width="1.2" />
<rect x="173.30" y="432.10" width="4.40" height="5.40" fill="#fff" stroke="#000" stroke-width="1.2" />
<rect x="305.30" y="432.10" width="4.40" height="5.40" fill="#fff" stroke="#000" stroke-width="1.2" />
<rect x="436.30" y="432.10" width="4.40" height="5.40" fill="#fff" stroke="#000" stroke-width="1.2" />
<rect x="567.30" y="432.10" width="4.40" height="5.40" fill="#fff" stroke="#000" stroke-width="1.2" />
<rect x="698.30" y="432.10" width="4.40" height="5.40" fill="#fff" stroke="#000" stroke-width="1.2" />
<rect x="829.80" y="432.10" width="4.40" height="5.40" fill="#fff" stroke="#000" stroke-width="1.2" />
<rect x="108.80" y="432.10" width="4.40" height="5.40" fill="#fff" stroke="#000" stroke-width="1.2" />
<rect x="239.10" y="432.10" width="4.40" height="5.40" fill="#fff" stroke="#000" stroke-width="1.2" />
<rect x="370.30" y="432.10" width="4.40" height="5.40" fill="#fff" stroke="#000" stroke-width="1.2" />
<rect x="501.60" y="432.10" width="4.40" height="5.40" fill="#fff" stroke="#000" stroke-width="1.2" />
<rect x="633.00" y="432.10" width="4.40" height="5.40" fill="#fff" stroke="#000" stroke-width="1.2" />
<rect x="764.30" y="432.10" width="4.40" height="5.40" fill="#fff" stroke="#000" stroke-width="1.2" />
<rect x="894.40" y="432.10" width="4.40" height="5.40" fill="#fff" stroke="#000" stroke-width="1.2" />
<rect x="173.30" y="498.60" width="4.40" height="5.40" fill="#fff" stroke="#000" stroke-width="1.2" />
<rect x="305.30" y="498.60" width="4.40" height="5.40" fill="#fff" stroke="#000" stroke-width="1.2" />
<rect x="436.30" y="498.60" width="4.40" height="5.40" fill="#fff" stroke="#000" stroke-width="1.2" />
<rect x="567.30" y="498.60" width="4.40" height="5.40" fill="#fff" stroke="#000" stroke-width="1.2" />
<rect x="698.30" y="498.60" width="4.40" height="5.40" fill="#fff" stroke="#000" stroke-width="1.2" />
<rect x="829.80" y="498.60" width="4.40" height="5.40" fill="#fff" stroke="#000" stroke-width="1.2" />
<rect x="108.80" y="498.60" width="4.40" height="5.40" fill="#fff" stroke="#000" stroke-width="1.2" />
<rect x="239.10" y="498.60" width="4.40" height="5.40" fill="#fff" stroke="#000" stroke-width="1.2" />
<rect x="370.30" y="498.60" width="4.40" height="5.40" fill="#fff" stroke="#000" stroke-width="1.2" />
<rect x="501.60" y="498.60" width="4.40" height="5.40" fill="#fff" stroke="#000" stroke-width="1.2" />
<rect x="633.00" y="498.60" width="4.40" height="5.40" fill="#fff" stroke="#000" stroke-width="1.2" />
<rect x="764.30" y="498.60" width="4.40" height="5.40" fill="#fff" stroke="#000" stroke-width="1.2" />
<rect x="894.40" y="498.60" width="4.40" height="5.40" fill="#fff" stroke="#000" stroke-width="1.2" />
<rect x="173.30" y="564.00" width="4.40" height="5.60" fill="#fff" stroke="#000" stroke-width="1.2" />
<rect x="305.30" y="564.00" width="4.40" height="5.60" fill="#fff" stroke="#000" stroke-width="1.2" />
<rect x="436.30" y="564.00" width="4.40" height="5.60" fill="#fff" stroke="#000" stroke-width="1.2" />
<rect x="567.30" y="564.00" width="4.40" height="5.60" fill="#fff" stroke="#000" stroke-width="1.2" />
<rect x="698.30" y="564.00" width="4.40" height="5.60" fill="#fff" stroke="#000" stroke-width="1.2" />
<rect x="829.80" y="564.00" width="4.40" height="5.60" fill="#fff" stroke="#000" stroke-width="1.2" />
<rect x="108.80" y="564.00" width="4.40" height="5.60" fill="#fff" stroke="#000" stroke-width="1.2" />
<rect x="239.10" y="564.00" width="4.40" height="5.60" fill="#fff" stroke="#000" stroke-width="1.2" />
<rect x="370.30" y="564.00" width="4.40" height="5.60" fill="#fff" stroke="#000" stroke-width="1.2" />
<rect x="501.60" y="564.00" width="4.40" height="5.60" fill="#fff" stroke="#000" stroke-width="1.2" />
<rect x="633.00" y="564.00" width="4.40" height="5.60" fill="#fff" stroke="#000" stroke-width="1.2" />
<rect x="764.30" y="564.00" width="4.40" height="5.60" fill="#fff" stroke="#000" stroke-width="1.2" />
<rect x="894.40" y="564.00" width="4.40" height="5.60" fill="#fff" stroke="#000" stroke-width="1.2" />
<rect x="46.90" y="432.40" width="4.60" height="3.60" fill="#ccc" stroke="#000" stroke-width="1" />
<rect x="46.90" y="499.40" width="4.60" height="3.60" fill="#ccc" stroke="#000" stroke-width="1" />
<rect x="46.90" y="566.00" width="4.60" height="3.60" fill="#ccc" stroke="#000" stroke-width="1" />
<rect x="956.40" y="256.60" width="4.80" height="4.80" fill="#fff" stroke="#000" stroke-width="1.15" />
<rect x="956.40" y="294.30" width="4.80" height="4.80" fill="#fff" stroke="#000" stroke-width="1.15" />
<rect x="956.40" y="364.90" width="4.80" height="4.80" fill="#fff" stroke="#000" stroke-width="1.15" />
<rect x="956.40" y="432.10" width="4.80" height="4.80" fill="#fff" stroke="#000" stroke-width="1.15" />
<rect x="956.40" y="498.90" width="4.80" height="4.80" fill="#fff" stroke="#000" stroke-width="1.15" />
<rect x="956.40" y="564.40" width="4.80" height="4.80" fill="#fff" stroke="#000" stroke-width="1.15" />
<rect x="305.30" y="330.00" width="4.40" height="6.00" fill="#fff" stroke="#000" stroke-width="1.15" />
<rect x="297.00" y="460.60" width="19.50" height="7.40" fill="none" stroke="#000" stroke-width="1.15" />
<rect x="559.90" y="460.40" width="19.00" height="7.40" fill="none" stroke="#000" stroke-width="1.15" />
<rect x="822.50" y="460.50" width="9.50" height="7.90" fill="none" stroke="#000" stroke-width="1.15" />
<rect x="52.30" y="248.00" width="11.30" height="52.00" fill="#1c1c1c" stroke="#000" stroke-width="1" />
<line x1="54.50" y1="252.08" x2="61.50" y2="252.08" stroke="#f0f0f0" stroke-width="0.9" />
<line x1="54.50" y1="254.66" x2="61.50" y2="254.66" stroke="#f0f0f0" stroke-width="0.9" />
<line x1="54.50" y1="257.24" x2="61.50" y2="257.24" stroke="#f0f0f0" stroke-width="0.9" />
<line x1="54.50" y1="259.82" x2="61.50" y2="259.82" stroke="#f0f0f0" stroke-width="0.9" />
<line x1="54.50" y1="262.39" x2="61.50" y2="262.39" stroke="#f0f0f0" stroke-width="0.9" />
<line x1="54.50" y1="264.97" x2="61.50" y2="264.97" stroke="#f0f0f0" stroke-width="0.9" />
<line x1="54.50" y1="267.55" x2="61.50" y2="267.55" stroke="#f0f0f0" stroke-width="0.9" />
<line x1="54.50" y1="270.13" x2="61.50" y2="270.13" stroke="#f0f0f0" stroke-width="0.9" />
<line x1="54.50" y1="272.71" x2="61.50" y2="272.71" stroke="#f0f0f0" stroke-width="0.9" />
<line x1="54.50" y1="275.29" x2="61.50" y2="275.29" stroke="#f0f0f0" stroke-width="0.9" />
<line x1="54.50" y1="277.87" x2="61.50" y2="277.87" stroke="#f0f0f0" stroke-width="0.9" />
<line x1="54.50" y1="280.45" x2="61.50" y2="280.45" stroke="#f0f0f0" stroke-width="0.9" />
<line x1="54.50" y1="283.03" x2="61.50" y2="283.03" stroke="#f0f0f0" stroke-width="0.9" />
<line x1="54.50" y1="285.61" x2="61.50" y2="285.61" stroke="#f0f0f0" stroke-width="0.9" />
<line x1="54.50" y1="288.18" x2="61.50" y2="288.18" stroke="#f0f0f0" stroke-width="0.9" />
<line x1="54.50" y1="290.76" x2="61.50" y2="290.76" stroke="#f0f0f0" stroke-width="0.9" />
<line x1="54.50" y1="293.34" x2="61.50" y2="293.34" stroke="#f0f0f0" stroke-width="0.9" />
<line x1="54.50" y1="295.92" x2="61.50" y2="295.92" stroke="#f0f0f0" stroke-width="0.9" />
<rect x="55.50" y="275.60" width="5.50" height="9.90" fill="#fff" stroke="#000" stroke-width="0.7" />
<rect x="18.40" y="298.75" width="4.20" height="4.50" fill="#f2f2f2" stroke="#000" stroke-width="1.1" />
<rect x="46.40" y="295.25" width="4.20" height="4.50" fill="#f2f2f2" stroke="#000" stroke-width="1.1" />
<rect x="18.40" y="365.25" width="4.20" height="4.50" fill="#f2f2f2" stroke="#000" stroke-width="1.1" />
<rect x="46.40" y="365.25" width="4.20" height="4.50" fill="#f2f2f2" stroke="#000" stroke-width="1.1" />
<rect x="18.40" y="395.05" width="4.20" height="4.50" fill="#f2f2f2" stroke="#000" stroke-width="1.1" />
<rect x="46.40" y="395.25" width="4.20" height="4.50" fill="#f2f2f2" stroke="#000" stroke-width="1.1" />
<rect x="142.45" y="567.70" width="1.60" height="1.60" fill="#000" stroke="#000" stroke-width="0" />
<rect x="207.60" y="567.70" width="1.60" height="1.60" fill="#000" stroke="#000" stroke-width="0" />
<rect x="273.60" y="567.70" width="1.60" height="1.60" fill="#000" stroke="#000" stroke-width="0" />
<rect x="339.20" y="567.70" width="1.60" height="1.60" fill="#000" stroke="#000" stroke-width="0" />
<rect x="404.70" y="567.70" width="1.60" height="1.60" fill="#000" stroke="#000" stroke-width="0" />
<rect x="470.35" y="567.70" width="1.60" height="1.60" fill="#000" stroke="#000" stroke-width="0" />
<rect x="535.85" y="567.70" width="1.60" height="1.60" fill="#000" stroke="#000" stroke-width="0" />
<rect x="601.55" y="567.70" width="1.60" height="1.60" fill="#000" stroke="#000" stroke-width="0" />
<rect x="667.05" y="567.70" width="1.60" height="1.60" fill="#000" stroke="#000" stroke-width="0" />
<rect x="732.70" y="567.70" width="1.60" height="1.60" fill="#000" stroke="#000" stroke-width="0" />
<rect x="798.45" y="567.70" width="1.60" height="1.60" fill="#000" stroke="#000" stroke-width="0" />
<rect x="863.50" y="567.70" width="1.60" height="1.60" fill="#000" stroke="#000" stroke-width="0" />
<rect x="928.35" y="567.70" width="1.60" height="1.60" fill="#000" stroke="#000" stroke-width="0" />
<rect x="61.50" y="567.70" width="1.60" height="1.60" fill="#000" stroke="#000" stroke-width="0" />
<rect x="79.00" y="567.70" width="1.60" height="1.60" fill="#000" stroke="#000" stroke-width="0" />
<rect x="927.20" y="567.70" width="1.60" height="1.60" fill="#000" stroke="#000" stroke-width="0" />
<rect x="932.40" y="567.70" width="1.60" height="1.60" fill="#000" stroke="#000" stroke-width="0" />
<rect x="959.00" y="273.80" width="2.00" height="1.60" fill="#000" stroke="#000" stroke-width="0" />
<rect x="959.00" y="319.50" width="2.00" height="1.60" fill="#000" stroke="#000" stroke-width="0" />
<rect x="959.00" y="346.60" width="2.00" height="1.60" fill="#000" stroke="#000" stroke-width="0" />
<rect x="959.00" y="386.60" width="2.00" height="1.60" fill="#000" stroke="#000" stroke-width="0" />
<rect x="959.00" y="413.60" width="2.00" height="1.60" fill="#000" stroke="#000" stroke-width="0" />
<rect x="959.00" y="447.20" width="2.00" height="1.60" fill="#000" stroke="#000" stroke-width="0" />
<rect x="959.00" y="480.90" width="2.00" height="1.60" fill="#000" stroke="#000" stroke-width="0" />
<rect x="959.00" y="527.20" width="2.00" height="1.60" fill="#000" stroke="#000" stroke-width="0" />
<rect x="959.00" y="545.00" width="2.00" height="1.60" fill="#000" stroke="#000" stroke-width="0" />
<text x="117.2" y="396.3" font-size="3.8" text-anchor="middle" fill="#333" font-family="Liberation Sans">LOT 1</text>
<text x="97.4" y="402.7" font-size="4.5" fill="#222" stroke="#222" stroke-width="0.12" font-family="Liberation Sans" textLength="41" lengthAdjust="spacingAndGlyphs">VIDE SUR ACTIVITE</text>
<text x="242.8" y="396.3" font-size="3.8" text-anchor="middle" fill="#333" font-family="Liberation Sans">LOT 2</text>
<text x="223.0" y="402.7" font-size="4.5" fill="#222" stroke="#222" stroke-width="0.12" font-family="Liberation Sans" textLength="41" lengthAdjust="spacingAndGlyphs">VIDE SUR ACTIVITE</text>
<text x="374.0" y="396.3" font-size="3.8" text-anchor="middle" fill="#333" font-family="Liberation Sans">LOT 3</text>
<text x="354.2" y="402.7" font-size="4.5" fill="#222" stroke="#222" stroke-width="0.12" font-family="Liberation Sans" textLength="41" lengthAdjust="spacingAndGlyphs">VIDE SUR ACTIVITE</text>
<text x="505.1" y="396.3" font-size="3.8" text-anchor="middle" fill="#333" font-family="Liberation Sans">LOT 4</text>
<text x="485.3" y="402.7" font-size="4.5" fill="#222" stroke="#222" stroke-width="0.12" font-family="Liberation Sans" textLength="41" lengthAdjust="spacingAndGlyphs">VIDE SUR ACTIVITE</text>
<text x="636.4" y="396.3" font-size="3.8" text-anchor="middle" fill="#333" font-family="Liberation Sans">LOT 5</text>
<text x="616.6" y="402.7" font-size="4.5" fill="#222" stroke="#222" stroke-width="0.12" font-family="Liberation Sans" textLength="41" lengthAdjust="spacingAndGlyphs">VIDE SUR ACTIVITE</text>
<text x="767.7" y="396.3" font-size="3.8" text-anchor="middle" fill="#333" font-family="Liberation Sans">LOT 6</text>
<text x="747.9000000000001" y="402.7" font-size="4.5" fill="#222" stroke="#222" stroke-width="0.12" font-family="Liberation Sans" textLength="41" lengthAdjust="spacingAndGlyphs">VIDE SUR ACTIVITE</text>
<text x="898.3" y="396.3" font-size="3.8" text-anchor="middle" fill="#333" font-family="Liberation Sans">LOT 7</text>
<text x="878.5" y="402.7" font-size="4.5" fill="#222" stroke="#222" stroke-width="0.12" font-family="Liberation Sans" textLength="41" lengthAdjust="spacingAndGlyphs">VIDE SUR ACTIVITE</text>
<text x="72" y="212.7" font-size="8.2" fill="#121a2c" font-weight="bold" font-family="Liberation Sans" textLength="31" lengthAdjust="spacingAndGlyphs">Bureau 1C</text>
<text x="227.4" y="212.7" font-size="8.2" fill="#121a2c" font-weight="bold" font-family="Liberation Sans" textLength="31.5" lengthAdjust="spacingAndGlyphs">Bureau 2</text>
<text x="347.2" y="212.7" font-size="8.2" fill="#121a2c" font-weight="bold" font-family="Liberation Sans" textLength="31.8" lengthAdjust="spacingAndGlyphs">Bureau 3</text>
<text x="498" y="213" font-size="8.2" fill="#121a2c" font-weight="bold" font-family="Liberation Sans" textLength="31.4" lengthAdjust="spacingAndGlyphs">Bureau 4</text>
<text x="610.7" y="213" font-size="8.2" fill="#121a2c" font-weight="bold" font-family="Liberation Sans" textLength="32" lengthAdjust="spacingAndGlyphs">Bureau 5</text>
<text x="760.8" y="213" font-size="8.2" fill="#121a2c" font-weight="bold" font-family="Liberation Sans" textLength="31.3" lengthAdjust="spacingAndGlyphs">Bureau 6</text>
<text x="883.5" y="224.2" font-size="8.2" fill="#121a2c" font-weight="bold" font-family="Liberation Sans" textLength="31.3" lengthAdjust="spacingAndGlyphs">Bureau 7</text>
<text x="24" y="332.5" font-size="8.2" fill="#121a2c" font-weight="bold" font-family="Liberation Sans" textLength="35.7" lengthAdjust="spacingAndGlyphs">Bureau 1B</text>
<text x="0" y="0" font-size="8.5" fill="#1d3160" stroke="#1d3160" stroke-width="0.2" font-family="Liberation Sans" transform="translate(288.6,209.3) rotate(-90)" textLength="7.5" lengthAdjust="spacingAndGlyphs">10</text>
<text x="87.6" y="469" font-size="20.3" fill="#111" stroke="#111" stroke-width="0.35" font-family="Liberation Sans" textLength="50.4" lengthAdjust="spacingAndGlyphs">LOT 1</text>
<text x="218" y="469.6" font-size="20.3" fill="#111" stroke="#111" stroke-width="0.35" font-family="Liberation Sans" textLength="50.0" lengthAdjust="spacingAndGlyphs">LOT 2</text>
<text x="348" y="468.5" font-size="20.3" fill="#111" stroke="#111" stroke-width="0.35" font-family="Liberation Sans" textLength="50.4" lengthAdjust="spacingAndGlyphs">LOT 3</text>
<text x="479.2" y="469.5" font-size="20.3" fill="#111" stroke="#111" stroke-width="0.35" font-family="Liberation Sans" textLength="51.4" lengthAdjust="spacingAndGlyphs">LOT 4</text>
<text x="601.7" y="467.8" font-size="20.3" fill="#111" stroke="#111" stroke-width="0.35" font-family="Liberation Sans" textLength="49.3" lengthAdjust="spacingAndGlyphs">LOT 5</text>
<text x="742.5" y="469.5" font-size="20.3" fill="#111" stroke="#111" stroke-width="0.35" font-family="Liberation Sans" textLength="50.0" lengthAdjust="spacingAndGlyphs">LOT 6</text>
<text x="870.8" y="469.6" font-size="20.3" fill="#111" stroke="#111" stroke-width="0.35" font-family="Liberation Sans" textLength="50.5" lengthAdjust="spacingAndGlyphs">LOT 7</text>
</svg>
</body></html>
